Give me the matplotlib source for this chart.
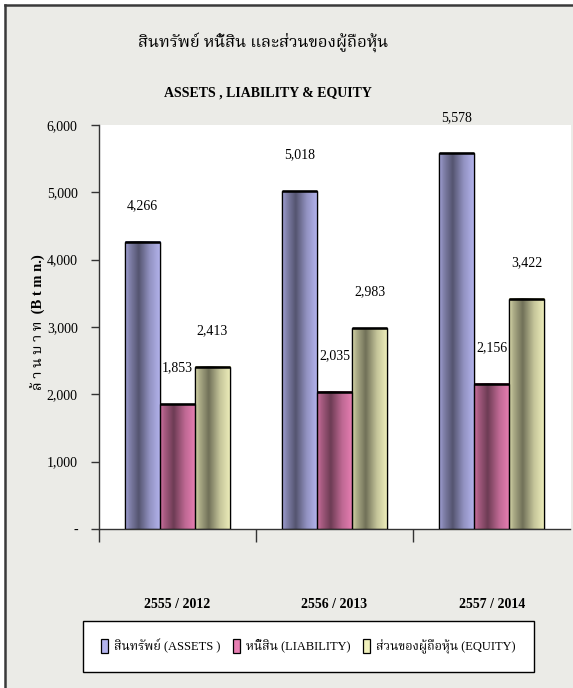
import numpy as np
import matplotlib
matplotlib.use("Agg")
import matplotlib.pyplot as plt
from matplotlib import font_manager
from matplotlib.patches import Rectangle
from matplotlib.lines import Line2D

# ---------------- data ----------------
categories = ["2555 / 2012", "2556 / 2013", "2557 / 2014"]
series_names = ["สินทรัพย์ (ASSETS )", "หนี้สิน (LIABILITY)", "ส่วนของผู้ถือหุ้น (EQUITY)"]
assets = [4266, 5018, 5578]
liability = [1853, 2035, 2156]
equity = [2413, 2983, 3422]
yticks = [0, 1000, 2000, 3000, 4000, 5000, 6000]
ytick_labels = ["-", "1,000", "2,000", "3,000", "4,000", "5,000", "6,000"]
title_th = "สินทรัพย์ หนี้สิน และส่วนของผู้ถือหุ้น"
title_en = "ASSETS , LIABILITY & EQUITY"
ylabel = "ล้ า น บ า ท  (B t m n.)"

# ---------------- fonts ----------------
thai_fonts = []
try:
    from fontTools.ttLib import TTFont
    for f in font_manager.fontManager.ttflist:
        try:
            tt = TTFont(f.fname, fontNumber=0, lazy=True)
            cmap = tt.getBestCmap()
            if cmap and 0x0E2A in cmap and 0x0E49 in cmap:
                if f.name not in thai_fonts:
                    thai_fonts.append(f.name)
        except Exception:
            pass
except Exception:
    pass

def _rank(n):
    n2 = n.lower()
    if "serif" in n2 and "thai" in n2:
        return 0
    if "thai" in n2 and "looped" in n2:
        return 1
    if "thai" in n2:
        return 2
    return 3
thai_fonts.sort(key=_rank)
families = ["Liberation Serif"] + thai_fonts[:2] + ["DejaVu Serif", "DejaVu Sans"]
plt.rcParams["font.family"] = families

# ---------------- figure ----------------
W, H = 573, 688
fig = plt.figure(figsize=(W / 100, H / 100), dpi=100)
bg = "#ebebe7"
fig.patch.set_facecolor("white")
fig.patches.append(Rectangle((5 / W, 0), 1 - 5 / W, 1 - 5 / H, transform=fig.transFigure,
                             facecolor=bg, edgecolor="none", zorder=-10))
fig.lines.append(Line2D([5 / W, 5 / W], [0, 1 - 5 / H], transform=fig.transFigure,
                        color="#3a3a3a", linewidth=1.8))
fig.lines.append(Line2D([5 / W, 1], [1 - 5 / H, 1 - 5 / H], transform=fig.transFigure,
                        color="#3a3a3a", linewidth=1.8))

ax = fig.add_axes([98.5 / W, 1 - 529 / H, (570.5 - 98.5) / W, (529 - 125) / H])
ax.set_facecolor("white")

x = np.arange(len(categories))
bw = 0.223
colors = ["#b4b4ee", "#e87fb3", "#f0f0bc"]
values = [assets, liability, equity]
offsets = [-bw, 0, bw]

# cylinder-like shading profile across the bar width
tt = np.linspace(0, 1, 64)
shade = np.interp(tt, [0, 0.12, 0.38, 0.7, 1.0], [0.9, 0.72, 0.47, 0.82, 1.0])

containers = []
for vals, off, col, name in zip(values, offsets, colors, series_names):
    bars = ax.bar(x + off, vals, width=bw, color=col, edgecolor="black", linewidth=0.9,
                  label=name, zorder=2)
    containers.append(bars)
    base = np.array(matplotlib.colors.to_rgb(col))
    grad = np.clip(base[None, None, :] * shade[None, :, None], 0, 1)
    for p in bars:
        x0, y0 = p.get_x(), p.get_y()
        ax.imshow(grad, extent=[x0, x0 + p.get_width(), y0, y0 + p.get_height()],
                  aspect="auto", zorder=2.5, interpolation="bilinear")
    ax.bar(x + off, vals, width=bw, fill=False, edgecolor="black", linewidth=0.9, zorder=3)
    for p in bars:
        ax.plot([p.get_x(), p.get_x() + p.get_width()], [p.get_height()] * 2,
                color="black", linewidth=1.8, zorder=3.5, solid_capstyle="butt")
    for xi, v in zip(x + off, vals):
        ax.annotate(f"{v:,}", xy=(xi, v), xytext=(0, 26), textcoords="offset points",
                    ha="center", va="center", fontsize=10, zorder=4)

ax.set_xlim(-0.5, len(categories) - 0.5)
ax.set_ylim(0, 6000)
ax.set_yticks(yticks)
ax.set_yticklabels(ytick_labels, fontsize=10)
ax.tick_params(axis="y", direction="out", length=6, width=1, color="#333333", pad=9)

ax.set_xticks(np.arange(len(categories)) - 0.5)
ax.set_xticklabels([])
ax.tick_params(axis="x", which="major", direction="out", length=9, width=1, color="#333333")
ax.set_xticks(x, minor=True)
ax.set_xticklabels(categories, minor=True, fontsize=10, fontweight="bold")
ax.tick_params(axis="x", which="minor", length=0, pad=50)

for s in ["top", "right"]:
    ax.spines[s].set_visible(False)
for s in ["left", "bottom"]:
    ax.spines[s].set_color("#333333")
    ax.spines[s].set_linewidth(1)

fig.text(38 / W, 1 - 322 / H, ylabel, rotation=90, ha="center", va="center",
         fontsize=10.5, fontweight="bold")

fig.text(263 / W, 1 - 43 / H, title_th, ha="center", va="center", fontsize=12, fontweight="bold")
fig.text(268 / W, 1 - 93 / H, title_en, ha="center", va="center", fontsize=10, fontweight="bold")

leg = fig.legend(handles=containers, labels=series_names, loc="center",
                 bbox_to_anchor=(308 / W, 1 - 646.5 / H), ncol=3, frameon=True, fancybox=False,
                 edgecolor="black", facecolor="white", framealpha=1, fontsize=9,
                 handlelength=0.55, handleheight=1.4, handletextpad=0.5, columnspacing=1.0,
                 borderpad=1.45, borderaxespad=0)
leg.get_frame().set_linewidth(1)

fig.savefig("out.png", dpi=100, facecolor=fig.get_facecolor())
